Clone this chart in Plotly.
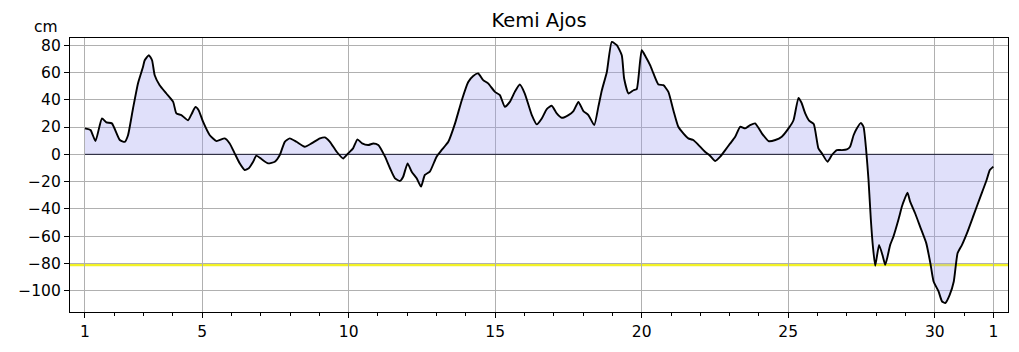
import plotly.graph_objects as go

# Water level (cm) at Kemi Ajos, x = day of month (32 = 1st of next month)
days = [1.00, 1.19, 1.36, 1.58, 1.73, 1.92, 2.19, 2.36, 2.47, 2.64, 2.81, 2.98, 3.04, 3.18, 3.29,
        3.38, 3.55, 3.78, 4.01, 4.12, 4.29, 4.52, 4.65, 4.77, 4.88, 5.03, 5.26, 5.49, 5.77, 5.94,
        6.11, 6.28, 6.45, 6.59, 6.74, 6.85, 7.02, 7.25, 7.48, 7.65, 7.82, 7.99, 8.22, 8.50, 8.73,
        9.02, 9.19, 9.36, 9.59, 9.81, 9.98, 10.15, 10.30, 10.46, 10.67, 10.84, 11.01, 11.24, 11.41,
        11.58, 11.75, 11.86, 12.01, 12.15, 12.32, 12.47, 12.60, 12.77, 13.00, 13.17, 13.40, 13.63,
        13.86, 14.08, 14.25, 14.42, 14.59, 14.76, 14.99, 15.16, 15.33, 15.50, 15.67, 15.84, 16.01,
        16.25, 16.42, 16.59, 16.76, 16.93, 17.10, 17.27, 17.50, 17.67, 17.84, 18.01, 18.18, 18.38,
        18.52, 18.64, 18.81, 18.98, 19.15, 19.32, 19.40, 19.55, 19.72, 19.83, 20.00, 20.14, 20.29,
        20.40, 20.57, 20.74, 20.91, 21.08, 21.25, 21.42, 21.59, 21.76, 21.94, 22.16, 22.33, 22.51,
        22.68, 22.85, 23.02, 23.19, 23.36, 23.53, 23.70, 23.87, 24.10, 24.33, 24.56, 24.78, 25.01,
        25.18, 25.35, 25.45, 25.58, 25.72, 25.87, 26.03, 26.15, 26.34, 26.49, 26.66, 26.83, 27.00,
        27.11, 27.23, 27.34, 27.48, 27.57, 27.66, 27.74, 27.82, 27.89, 27.97, 28.10, 28.23, 28.31,
        28.39, 28.48, 28.59, 28.76, 28.88, 28.96, 29.07, 29.16, 29.33, 29.50, 29.71, 29.85, 29.96,
        30.13, 30.25, 30.36, 30.51, 30.65, 30.78, 30.93, 31.10, 31.33, 31.56, 31.77, 31.88, 32.00]

level = [19.0, 17.8, 9.7, 26.3, 23.4, 22.7, 10.5, 9.2, 14.0, 33.6, 52.0, 64.0, 69.0, 72.7, 69.0,
         58.0, 50.7, 44.6, 38.5, 30.0, 28.8, 25.0, 30.0, 34.8, 32.4, 23.9, 14.0, 9.7, 11.7, 8.0,
         0.7, -6.6, -11.5, -10.2, -5.4, -1.0, -3.4, -6.6, -5.4, -0.5, 9.2, 11.7, 9.2, 5.6, 8.0,
         11.7, 12.4, 9.2, 1.9, -3.0, 0.7, 4.4, 11.0, 8.0, 6.8, 8.0, 6.8, -1.7, -10.2,
         -17.6, -19.5, -16.4, -6.6, -12.7, -17.6, -23.7, -15.1, -12.7, -1.7, 3.1, 9.2, 22.7,
         39.7, 53.0, 57.5, 59.3, 54.4, 52.0, 45.8, 43.4, 34.8, 38.5, 45.8, 51.2, 44.6,
         28.8, 22.0, 26.3, 33.2, 35.6, 30.0, 26.8, 28.8, 31.7, 38.5, 31.7, 28.8, 21.4,
         34.8, 47.0, 60.4, 82.4, 80.0, 72.7, 55.6, 44.6, 47.0, 47.8, 76.3, 71.4, 65.3,
         59.3, 51.2, 50.7, 45.8, 32.4, 20.2, 15.4, 11.7, 10.5, 6.8, 1.9, -1.0, -4.9,
         -1.7, 3.1, 8.0, 12.9, 20.2, 19.0, 21.4, 22.7, 15.4, 9.7, 10.5, 12.9, 19.0,
         25.0, 41.4, 38.0, 30.0, 24.5, 22.2, 4.4, 0.7, -5.4, -0.5, 3.1, 3.1, 3.6,
         5.6, 14.0, 19.0, 23.1, 20.2, 3.1, -18.8, -48.0, -67.6, -81.7, -66.4, -74.9, -81.0,
         -74.9, -66.4, -60.3, -48.0, -38.3, -33.4, -28.1, -34.7, -43.2, -53.0, -65.1, -79.8, -93.2,
         -100.5, -107.9, -109.0, -103.0, -93.2, -72.4, -66.4, -57.8, -44.4, -31.0, -18.8, -11.5, -9.0]

warning_level = -81
x_tick_vals = [1, 5, 10, 15, 20, 25, 30, 32]
x_tick_text = ["1", "5", "10", "15", "20", "25", "30", "1"]
y_tick_vals = [-100, -80, -60, -40, -20, 0, 20, 40, 60, 80]
y_tick_text = [("\u2212" + str(abs(v))) if v < 0 else str(v) for v in y_tick_vals]

FONT = "DejaVu Sans"

fig = go.Figure()
fig.add_trace(go.Scatter(x=days, y=level, mode="lines", fill="tozeroy",
                         fillcolor="rgba(160,160,240,0.32)",
                         line=dict(width=0, shape="spline", smoothing=0.5),
                         hoverinfo="skip", showlegend=False))
fig.add_trace(go.Scatter(x=[days[0], days[-1]], y=[0, 0], mode="lines",
                         line=dict(color="#1a1a2e", width=1), showlegend=False))
fig.add_trace(go.Scatter(x=days, y=level, mode="lines",
                         line=dict(color="black", width=1.9, shape="spline", smoothing=0.5),
                         showlegend=False))

fig.add_shape(type="line", xref="paper", yref="y", x0=0, x1=1,
              y0=warning_level, y1=warning_level,
              line=dict(color="rgba(240,240,0,0.85)", width=3), layer="below")

fig.update_layout(
    width=1019, height=352,
    margin=dict(l=70, r=11, t=38, b=40),
    paper_bgcolor="white", plot_bgcolor="white",
    font=dict(family=FONT, size=15.5, color="black"),
    title=dict(text="Kemi Ajos", x=0.529, xanchor="center", y=0.943, yanchor="middle",
               font=dict(family=FONT, size=19.5, color="black")),
    showlegend=False,
)
fig.update_xaxes(range=[0.49, 32.5], tickmode="array", tickvals=x_tick_vals,
                 ticktext=x_tick_text, ticks="outside", ticklen=5, tickwidth=1,
                 tickcolor="black", showline=True, linecolor="black", linewidth=1.3,
                 mirror=True, showgrid=True, gridcolor="#b0b0b0", gridwidth=1.2,
                 zeroline=False, tickfont=dict(size=15.5),
                 minor=dict(tickmode="linear", tick0=1, dtick=1, ticks="outside",
                            ticklen=3, tickcolor="black", showgrid=False))
fig.update_yaxes(range=[-115.6, 85.3], tickmode="array", tickvals=y_tick_vals,
                 ticktext=y_tick_text, ticks="outside", ticklen=5, tickwidth=1,
                 tickcolor="black", showline=True, linecolor="black", linewidth=1.3,
                 mirror=True, showgrid=True, gridcolor="#b0b0b0", gridwidth=1.2,
                 zeroline=False, tickfont=dict(size=15.5))

fig.add_annotation(text="cm", xref="paper", yref="paper", x=-0.026, y=1.0,
                   xanchor="center", yanchor="bottom", showarrow=False,
                   font=dict(family=FONT, size=15.5, color="black"))

fig.write_html("out.html")
